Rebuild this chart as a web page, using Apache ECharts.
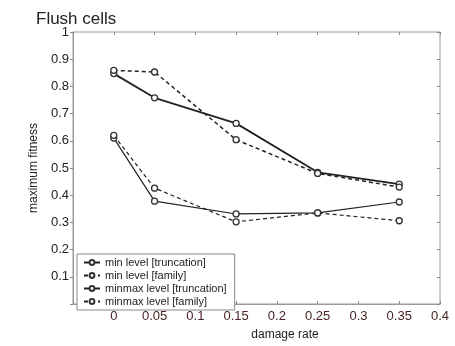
<!DOCTYPE html>
<html>
<head>
<meta charset="utf-8">
<script src="https://cdn.jsdelivr.net/npm/echarts@6/dist/echarts.min.js"></script>
<style>
  html, body { margin: 0; padding: 0; background: #fff; }
  #main { width: 455px; height: 346px; }
</style>
</head>
<body>
<div id="main"></div>
<script>
// damage rate values on the x axis
var damageRate = [0, 0.05, 0.15, 0.25, 0.35];

// maximum fitness
var minTruncation = [0.61, 0.378, 0.331, 0.335, 0.375];
var minFamily = [0.62, 0.426, 0.302, 0.335, 0.306];
var minmaxTruncation = [0.847, 0.758, 0.664, 0.484, 0.441];
var minmaxFamily = [0.859, 0.853, 0.604, 0.48, 0.43];

var seriesNames = ['min level [truncation]', 'min level [family]', 'minmax level [truncation]', 'minmax level [family]'];

var chartDom = document.getElementById('main');
var myChart = echarts.init(chartDom, null, { renderer: 'canvas' });

function pairs(ys) {
  return damageRate.map(function (x, i) { return [x, ys[i]]; });
}

function makeSeries(name, ys, dashed, width) {
  return {
    name: name,
    type: 'line',
    data: pairs(ys),
    symbol: 'circle',
    symbolSize: 6,
    itemStyle: { color: '#fff', borderColor: '#333', borderWidth: 1.3 },
    lineStyle: { color: '#222', width: width, type: dashed ? [4, 3] : 'solid' },
    emphasis: { disabled: true },
    z: 3
  };
}

var font = 'Liberation Sans, Arial, sans-serif';

var option = {
  animation: false,
  textStyle: { fontFamily: font },
  title: {
    text: 'Flush cells',
    left: 31,
    top: 6,
    textStyle: { fontSize: 17, fontWeight: 'normal', color: '#222', fontFamily: font }
  },
  grid: {
    left: 73,
    right: 15,
    top: 32,
    bottom: 37,
    show: true,
    borderColor: '#9a9a9a',
    borderWidth: 1
  },
  legend: {
    orient: 'vertical',
    left: 77,
    top: 254,
    data: seriesNames,
    itemWidth: 16,
    itemHeight: 6,
    itemGap: 2,
    padding: [3, 8, 3, 6],
    backgroundColor: '#fff',
    borderColor: '#888',
    borderWidth: 1,
    textStyle: { fontSize: 11, color: '#222', fontFamily: font }
  },
  xAxis: [{
    type: 'value',
    min: -0.05,
    max: 0.4,
    interval: 0.05,
    name: 'damage rate',
    nameLocation: 'middle',
    nameGap: 25,
    nameTextStyle: { fontSize: 12, color: '#222', padding: [0, 0, 0, 57] },
    axisLine: { show: true, onZero: false, lineStyle: { color: '#9a9a9a' } },
    axisTick: { show: true, inside: true, length: 3, lineStyle: { color: '#888' } },
    axisLabel: {
      fontSize: 13,
      color: '#4a2226',
      margin: 6,
      formatter: function (v) { return v < -0.001 ? '' : +v.toFixed(2) + ''; }
    },
    splitLine: { show: false }
  }, {
    type: 'value',
    position: 'top',
    min: -0.05,
    max: 0.4,
    interval: 0.05,
    axisLine: { show: false, onZero: false },
    axisTick: { show: true, inside: true, length: 3, lineStyle: { color: '#888' } },
    axisLabel: { show: false },
    splitLine: { show: false }
  }],
  yAxis: [{
    type: 'value',
    min: 0,
    max: 1,
    interval: 0.1,
    name: 'maximum fitness',
    nameLocation: 'middle',
    nameGap: 32,
    nameTextStyle: { fontSize: 12, color: '#222' },
    axisLine: { show: true, onZero: false, lineStyle: { color: '#9a9a9a' } },
    axisTick: { show: true, inside: false, length: 3, lineStyle: { color: '#888' } },
    axisLabel: {
      fontSize: 13,
      color: '#222',
      margin: 4,
      formatter: function (v) { return v < 0.001 ? '' : +v.toFixed(1) + ''; }
    },
    splitLine: { show: false }
  }, {
    type: 'value',
    position: 'right',
    min: 0,
    max: 1,
    interval: 0.1,
    axisLine: { show: false, onZero: false },
    axisTick: { show: true, inside: true, length: 3, lineStyle: { color: '#888' } },
    axisLabel: { show: false },
    splitLine: { show: false }
  }],
  series: [
    makeSeries(seriesNames[0], minTruncation, false, 1.2),
    makeSeries(seriesNames[1], minFamily, true, 1.2),
    makeSeries(seriesNames[2], minmaxTruncation, false, 1.8),
    makeSeries(seriesNames[3], minmaxFamily, true, 1.5)
  ]
};

myChart.setOption(option);
</script>
</body>
</html>
